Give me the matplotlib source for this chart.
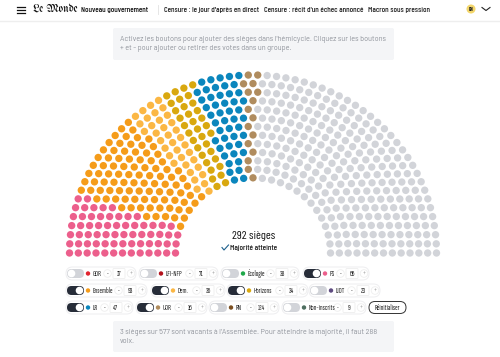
import numpy as np
import matplotlib
matplotlib.use("Agg")
import matplotlib.pyplot as plt
from matplotlib.patches import FancyBboxPatch, Circle
import logging
logging.getLogger("matplotlib.font_manager").setLevel(logging.ERROR)

groups = ["GDR", "LFI-NFP", "Écologie", "PS",
          "Ensemble", "Dem.", "Horizons", "LIOT",
          "LR", "UDR", "RN", "Non-inscrits"]
seats = [17, 71, 38, 66, 93, 36, 34, 23, 47, 16, 124, 9]
active = [False, False, False, True, True, True, True, False, True, True, False, False]
group_colors = ["#e1232e", "#b3111c", "#1fa84a", "#ec5f8c", "#f59c1a", "#fbb744", "#d9a80f",
                "#5e4b80", "#0b86bd", "#b08c5e", "#7b4e1f", "#4e6e60"]
# order of the active groups along the arc, left to right
arc_order = ["PS", "Ensemble", "Dem.", "Horizons", "LR", "UDR"]
grey = "#d2d4d9"

# pill extents, x0 x1 y
pills = [(66, 136, 273.5), (139, 218, 273.5), (221, 299, 273.5), (303, 369, 273.5),
         (66, 147, 290.5), (151, 225, 290.5), (227, 308, 290.5), (309, 380, 290.5),
         (66, 133, 307.5), (136, 207, 307.5), (209, 279, 307.5), (282, 366, 307.5)]

narrow = ["Barlow Condensed", "Roboto Condensed", "Roboto", "DejaVu Sans"]
tight = ["Sofia Sans Extra Condensed", "Barlow Condensed", "Roboto", "DejaVu Sans"]
body = ["Barlow", "Roboto", "DejaVu Sans"]
logo = ["UnifrakturMaguntia", "DejaVu Serif"]

fig = plt.figure(figsize=(5, 3.57), dpi=100)
ax = fig.add_axes([0, 0, 1, 1])
ax.set_xlim(0, 500)
ax.set_ylim(357, 0)
ax.axis("off")

# top bar
ax.plot([0, 500], [20.5, 20.5], color="#eeeeee", lw=1)
for y in (6.5, 9.5, 12.5):
    ax.plot([16.5, 25], [y, y], color="#111111", lw=0.9)
ax.text(33, 9.5, "Le Monde", family=logo, fontsize=7.9, va="center", color="#111111")
nav = [(81, "Nouveau gouvernement", "#111111"), (164, "Censure : le jour d'après en direct", "#222222"),
       (264, "Censure : récit d'un échec annoncé", "#222222"), (368, "Macron sous pression", "#222222")]
for x, s, c in nav:
    ax.text(x, 10, s, family=narrow, fontsize=5.9, weight="medium", va="center", color=c)
ax.plot([157.5, 157.5], [5, 14], color="#e6e6e6", lw=0.7)
ax.add_patch(Circle((471, 9), 4.5, color="#f3d66b", lw=0))
ax.text(471, 9.2, "RN", family=narrow, fontsize=3.4, weight="bold", ha="center", va="center", color="#222222")
ax.plot([482, 486, 490], [7.5, 10.5, 7.5], color="#222222", lw=0.8)

# instruction boxes
text_grey = "#8d9199"
for y0, y1 in ((28, 60), (321, 352)):
    ax.add_patch(FancyBboxPatch((113, y0), 281, y1 - y0, boxstyle="round,pad=0,rounding_size=2",
                                fc="#f4f5f7", ec="none"))
ax.text(120, 39.5, "Activez les boutons pour ajouter des sièges dans l'hémicycle. Cliquez sur les boutons",
        family=body, fontsize=5.25, va="center", color=text_grey)
ax.text(120, 48.5, "+ et - pour ajouter ou retirer des votes dans un groupe.",
        family=body, fontsize=5.25, va="center", color=text_grey)
ax.text(120, 332, "3 sièges sur 577 sont vacants à l'Assemblée. Pour atteindre la majorité, il faut 288",
        family=body, fontsize=5.3, va="center", color=text_grey)
ax.text(120, 341.5, "voix.", family=body, fontsize=5.3, va="center", color=text_grey)

# hemicycle: rows of seats, seats sorted by angle then given to groups
cx, cy = 253, 253
radii = np.linspace(77.5, 183.5, 13)
squash = 0.97  # the screenshot is slightly flattened
total = sum(seats)
exact = total * radii / radii.sum()
row_n = np.floor(exact).astype(int)
for i in np.argsort(exact - row_n)[::-1][:total - row_n.sum()]:
    row_n[i] += 1
sx, sy, sa = [], [], []
for r, n in zip(radii, row_n):
    a = np.linspace(np.pi, 0, n)
    sx.extend(cx + r * np.cos(a))
    sy.extend(cy - squash * r * np.sin(a))
    sa.extend(np.pi - a)
order = np.argsort(sa, kind="stable")
colors = []
for name in arc_order:
    i = groups.index(name)
    colors += [group_colors[i]] * seats[i]
colors += [grey] * (total - len(colors))
seat_colors = [None] * total
for k, idx in enumerate(order):
    seat_colors[idx] = colors[k]
ax.scatter(sx, sy, s=28, c=seat_colors, linewidths=0, zorder=3)

# centre
n_active = sum(s for s, a in zip(seats, active) if a)
ax.text(254, 236, f"{n_active} sièges", family=narrow, fontsize=8.6, ha="center", va="center", color="#111111")
ax.plot([222, 224, 228.5], [247.5, 250, 245], color="#1c5f8c", lw=0.8)
ax.text(254, 248, "Majorité atteinte", family=narrow, fontsize=6, weight="medium", ha="center", va="center", color="#222222")

# controls
for name, n, col, on, (x0, x1, y) in zip(groups, seats, group_colors, active, pills):
    ax.add_patch(FancyBboxPatch((x0, y - 6.5), x1 - x0, 13, boxstyle="round,pad=0,rounding_size=6.5",
                                fc="white", ec="#eeeef0", lw=0.7))
    ax.add_patch(FancyBboxPatch((x0 + 1, y - 4.5), 17, 9, boxstyle="round,pad=0,rounding_size=4.5",
                                fc="#262c38" if on else "#d2d4d9", ec="none"))
    ax.add_patch(Circle((x0 + (13.5 if on else 5.5), y), 3.8, fc="white", ec="none", zorder=3))
    ax.add_patch(Circle((x0 + 22, y), 2.2, fc=col, ec="none"))
    ax.text(x0 + 26.5, y + 0.2, name, family=tight, fontsize=5.6, weight="medium", va="center", color="#222222")
    ax.add_patch(Circle((x1 - 5, y), 3.8, fc="white", ec="#eeeeee", lw=0.6))
    ax.text(x1 - 5, y, "+", fontsize=4, ha="center", va="center", color="#bbbbbb", family="Roboto")
    ax.add_patch(FancyBboxPatch((x1 - 23, y - 5), 12, 10, boxstyle="round,pad=0,rounding_size=1",
                                fc="white", ec="#eeeeee", lw=0.6))
    ax.text(x1 - 17, y + 0.2, str(n), family=tight, fontsize=5.6, weight="medium", ha="center", va="center", color="#222222")
    ax.add_patch(Circle((x1 - 28.5, y), 3.8, fc="white", ec="#eeeeee", lw=0.6))
    ax.text(x1 - 28.5, y, "-", fontsize=4.5, ha="center", va="center", color="#333333", family="Roboto")

ax.add_patch(FancyBboxPatch((369, 301.5), 37, 12, boxstyle="round,pad=0,rounding_size=6",
                            fc="white", ec="#333333", lw=0.7))
ax.text(387.5, 307.7, "Réinitialiser", family=tight, fontsize=5.6, weight="medium", ha="center", va="center", color="#222222")

fig.savefig("out.png", dpi=100)
